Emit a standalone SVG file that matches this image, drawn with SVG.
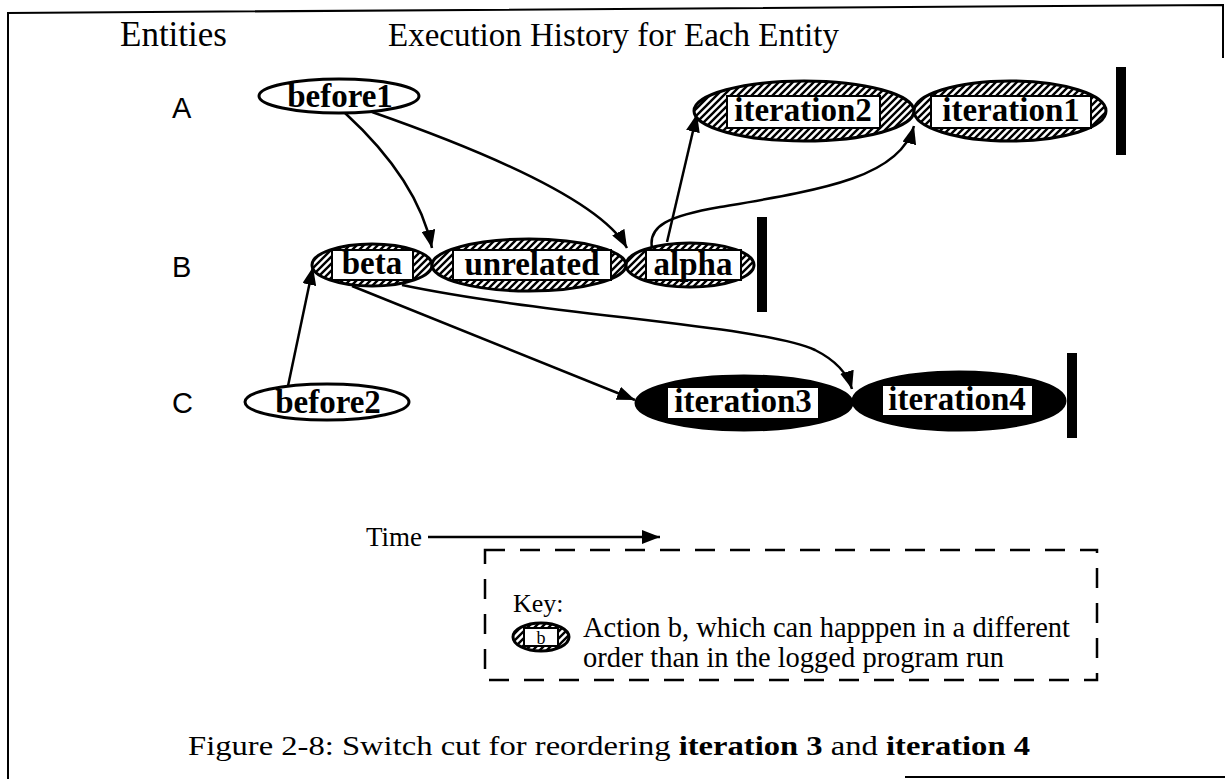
<svg xmlns="http://www.w3.org/2000/svg" width="1225" height="779" viewBox="0 0 1225 779">
<style>
.serif{font-family:"Liberation Serif","Times New Roman",serif;fill:#000}
.sans{font-family:"Liberation Sans",Arial,sans-serif;fill:#000}
.lbl{font-family:"Liberation Serif","Times New Roman",serif;font-weight:bold;font-size:33px;text-anchor:middle;fill:#000}
.ell{stroke:#000;stroke-width:3}
.box{fill:#fff;stroke:#000;stroke-width:2}
.bar{fill:#000}
.conn{fill:none;stroke:#000;stroke-width:2.5;marker-end:url(#ah)}
.frame{fill:none;stroke:#000;stroke-width:2}
</style>
<defs>
<pattern id="hatch" patternUnits="userSpaceOnUse" width="7" height="7">
<rect width="7" height="7" fill="#fff"/>
<path d="M-1,1 l2,-2 M0,7 l7,-7 M6,8 l2,-2" stroke="#000" stroke-width="2.4"/>
</pattern>
<marker id="ah" markerUnits="userSpaceOnUse" markerWidth="20" markerHeight="14" refX="18" refY="7" orient="auto">
<path d="M0,0 L18,7 L0,14 z" fill="#000"/>
</marker>
</defs>

<g id="frame">
<path class="frame" d="M7,13 L1223,5 L1223,58"/>
<path class="frame" d="M8,13 L8,779"/>
<path class="frame" d="M905,777 L1225,777"/>
</g>

<g id="headers">
<text class="serif" x="120" y="46" font-size="35">Entities</text>
<text class="serif" x="388" y="46" font-size="33">Execution History for Each Entity</text>
<text class="sans" x="172" y="118" font-size="29">A</text>
<text class="sans" x="172" y="277" font-size="29">B</text>
<text class="sans" x="172" y="413" font-size="29">C</text>
</g>

<g id="connectors">
<path class="conn" d="M345,113 Q418,180 432,248"/>
<path class="conn" d="M372,112 Q595,190 627,248"/>
<path class="conn" d="M667,242 L697,114"/>
<path class="conn" d="M652,248 C648,226 668,216 720,207 C820,190 900,178 914,126"/>
<path class="conn" d="M288,386 L313,267"/>
<path class="conn" d="M352,286 L635,400"/>
<path class="conn" d="M402,285 C550,316 760,325 815,350 Q845,365 852,389"/>
<path class="conn" d="M428,537 L660,537"/>
</g>

<g id="before1">
<ellipse class="ell" cx="339" cy="96" rx="80" ry="17" fill="#fff"/>
<text class="lbl" x="340" y="107">before1</text>
</g>

<g id="iteration2">
<ellipse class="ell" cx="804" cy="111" rx="110" ry="30" fill="url(#hatch)"/>
<rect class="box" x="727" y="96" width="153" height="32"/>
<text class="lbl" x="803" y="121">iteration2</text>
</g>

<g id="iteration1">
<ellipse class="ell" cx="1010" cy="111" rx="96" ry="30" fill="url(#hatch)"/>
<rect class="box" x="931" y="96" width="160" height="32"/>
<text class="lbl" x="1011" y="121">iteration1</text>
</g>
<rect class="bar" x="1116" y="67" width="10" height="88"/>

<g id="beta">
<ellipse class="ell" cx="372" cy="265" rx="60" ry="21" fill="url(#hatch)"/>
<rect class="box" x="332" y="250" width="81" height="30"/>
<text class="lbl" x="372" y="274">beta</text>
</g>

<g id="unrelated">
<ellipse class="ell" cx="529" cy="265" rx="97" ry="26" fill="url(#hatch)"/>
<rect class="box" x="453" y="250" width="158" height="30"/>
<text class="lbl" x="532" y="275">unrelated</text>
</g>

<g id="alpha">
<ellipse class="ell" cx="690" cy="265" rx="64" ry="22" fill="url(#hatch)"/>
<rect class="box" x="646" y="250" width="95" height="30"/>
<text class="lbl" x="693" y="275">alpha</text>
</g>
<rect class="bar" x="757" y="217" width="10" height="95"/>

<g id="before2">
<ellipse class="ell" cx="327" cy="402" rx="82" ry="18" fill="#fff"/>
<text class="lbl" x="328" y="413">before2</text>
</g>

<g id="iteration3">
<ellipse class="ell" cx="744" cy="403" rx="108" ry="27" fill="#000"/>
<rect x="668" y="388" width="150" height="30" fill="#fff"/>
<text class="lbl" x="743" y="412">iteration3</text>
</g>

<g id="iteration4">
<ellipse class="ell" cx="959" cy="401" rx="106" ry="29" fill="#000"/>
<rect x="883" y="386" width="149" height="29" fill="#fff"/>
<text class="lbl" x="957" y="410">iteration4</text>
</g>
<rect class="bar" x="1067" y="353" width="10" height="85"/>

<g id="time">
<text class="serif" x="366" y="546" font-size="27">Time</text>
</g>

<g id="key">
<rect x="485" y="550" width="612" height="130" fill="none" stroke="#000" stroke-width="2.5" stroke-dasharray="20,15"/>
<text class="serif" x="513" y="612" font-size="26">Key:</text>
<ellipse class="ell" cx="541" cy="637" rx="28" ry="14" fill="url(#hatch)"/>
<rect class="box" x="524" y="628" width="34" height="18"/>
<text class="serif" x="541" y="644" font-size="18" text-anchor="middle">b</text>
<text class="serif" x="583" y="637" font-size="28.5">Action b, which can happpen in a different</text>
<text class="serif" x="583" y="667" font-size="28.5">order than in the logged program run</text>
</g>

<g id="caption">
<text class="serif" x="188" y="755" font-size="28" textLength="842" lengthAdjust="spacingAndGlyphs">Figure 2-8: Switch cut for reordering <tspan font-weight="bold">iteration 3</tspan> and <tspan font-weight="bold">iteration 4</tspan></text>
</g>
</svg>
